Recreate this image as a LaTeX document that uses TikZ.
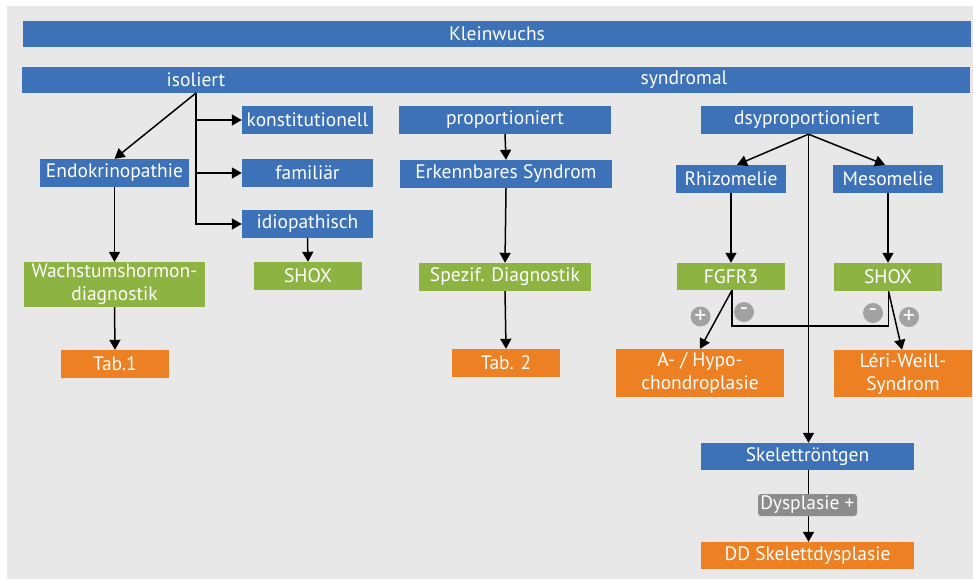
\documentclass[tikz,border=0pt]{standalone}
\usepackage{fontspec}
\setmainfont{PT Sans}
\usetikzlibrary{arrows.meta,calc}
\definecolor{bgc}{HTML}{E8E8E8}
\definecolor{blu}{HTML}{3D72B8}
\definecolor{grn}{HTML}{8DB443}
\definecolor{org}{HTML}{EC8023}
\definecolor{cir}{HTML}{A2A2A2}
\definecolor{lab}{HTML}{8C8C8C}
\begin{document}
\begin{tikzpicture}[x=1pt,y=-1pt,
  every node/.style={font=\fontsize{19.5}{23}\selectfont},
  box/.style={draw=none,inner sep=0pt,text=white,align=center},
  bluebox/.style={box,fill=blu},
  greenbox/.style={box,fill=grn},
  orangebox/.style={box,fill=org},
  sign/.style={circle,fill=cir,text=white,inner sep=0pt,minimum size=20pt,font=\fontsize{24}{24}\selectfont},
  conn/.style={line width=1.5pt,-{Triangle[length=10pt,width=11pt]}},
  plain/.style={line width=1.5pt}]
\useasboundingbox (0,0) rectangle (973,579);
\fill[white] (0,0) rectangle (973,579);
\fill[bgc] (7,6) rectangle (973,579);
% top bars
\node[bluebox,minimum width=948pt,minimum height=26pt] (klein) at (497,34) {Kleinwuchs};
\node[bluebox,minimum width=948pt,minimum height=26pt] (bar) at (496,80) {};
\node[box] (isoliert) at (196,80) {isoliert};
\node[box] (syndromal) at (684,80) {syndromal};
\coordinate (iso) at (196,93);
% left column
\node[bluebox,minimum width=131pt,minimum height=28pt] (konst) at (307.5,120) {konstitutionell};
\node[bluebox,minimum width=131pt,minimum height=28pt] (famil) at (307.5,173) {familiär};
\node[bluebox,minimum width=149pt,minimum height=28pt] (endo) at (114.5,173) {Endokrinopathie};
\node[bluebox,minimum width=131pt,minimum height=28pt] (idio) at (307.5,224) {idiopathisch};
\node[greenbox,minimum width=108pt,minimum height=28pt] (shoxL) at (308,276) {SHOX};
\node[greenbox,minimum width=181pt,minimum height=45pt] (wachs) at (114.5,284.5) {Wachstumshormon-\\diagnostik};
\node[orangebox,minimum width=108pt,minimum height=28pt] (tab1) at (115,364) {Tab.1};
% middle column
\node[bluebox,minimum width=212pt,minimum height=28pt] (prop) at (505,120) {proportioniert};
\node[bluebox,minimum width=212pt,minimum height=28pt] (erk) at (506,174) {Erkennbares Syndrom};
\node[greenbox,minimum width=172pt,minimum height=28pt] (spez) at (505,277) {Spezif. Diagnostik};
\node[orangebox,minimum width=108pt,minimum height=28pt] (tab2) at (506,363) {Tab. 2};
% right column
\node[bluebox,minimum width=212pt,minimum height=28pt] (dsy) at (807,120) {dsyproportioniert};
\node[bluebox,minimum width=110pt,minimum height=28pt] (rhizo) at (731,179) {Rhizomelie};
\node[bluebox,minimum width=110pt,minimum height=28pt] (meso) at (888,179) {Mesomelie};
\node[greenbox,minimum width=108pt,minimum height=27pt] (fgfr) at (731,276.5) {FGFR3};
\node[greenbox,minimum width=108pt,minimum height=28pt] (shoxR) at (888,277) {SHOX};
\node[orangebox,minimum width=168pt,minimum height=48pt] (achon) at (700,373) {A- / Hypo-\\chondroplasie};
\node[orangebox,minimum width=138pt,minimum height=47pt] (leri) at (903,373.5) {Léri-Weill-\\Syndrom};
\node[bluebox,minimum width=213pt,minimum height=27pt] (skel) at (807.5,456.5) {Skelettröntgen};
\node[orangebox,minimum width=213pt,minimum height=27pt] (dd) at (807.5,555.5) {DD Skelettdysplasie};
% connectors left
\draw[conn] (iso) |- (idio.west);
\draw[conn] (iso |- konst.west) -- (konst.west);
\draw[conn] (iso |- famil.west) -- (famil.west);
\draw[conn] (iso) -- (endo.north);
\draw[conn] (endo.south) -- (wachs.north);
\draw[conn] (wachs.south) -- (tab1.north);
\draw[conn] (idio.south) -- (shoxL.north);
% connectors middle
\draw[conn] (prop.south) -- (erk.north);
\draw[conn] (erk.south) -- (spez.north);
\draw[conn] (spez.south) -- (tab2.north);
% connectors right
\coordinate (dsyb) at ($(dsy.south)+(1.5,0)$);
\draw[conn] (dsyb) -- ($(rhizo.north)+(6,0)$);
\draw[conn] (dsyb) -- ($(meso.north)+(-3,0)$);
\draw[conn] (dsyb) -- (dsyb |- skel.north);
\draw[conn] (rhizo.south) -- (fgfr.north);
\draw[conn] (meso.south) -- (shoxR.north);
\coordinate (fgb) at ($(fgfr.south)+(1,0)$);
\coordinate (shb) at ($(shoxR.south)+(0.5,0)$);
\coordinate (jl) at ($(fgb)+(0,36)$);
\draw[conn] (fgb) -- (achon.north);
\draw[conn] (shb) -- ($(leri.north)+(-1,0)$);
\draw[plain] (fgb) -- (jl) -- (jl -| shb) -- (shb);
\node[sign] (p1) at (700.5,316.5) {+};
\node[sign] (m1) at (744,312) {-};
\node[sign] (m2) at (873,313) {-};
\node[sign] (p2) at (909,317) {+};
\draw[conn] (skel.south -| dsyb) -- (dd.north -| dsyb);
\node[box,fill=lab,rounded corners=3pt,minimum width=99pt,minimum height=22pt] (dysp) at (807.5,505) {Dysplasie +};
\end{tikzpicture}
\end{document}
